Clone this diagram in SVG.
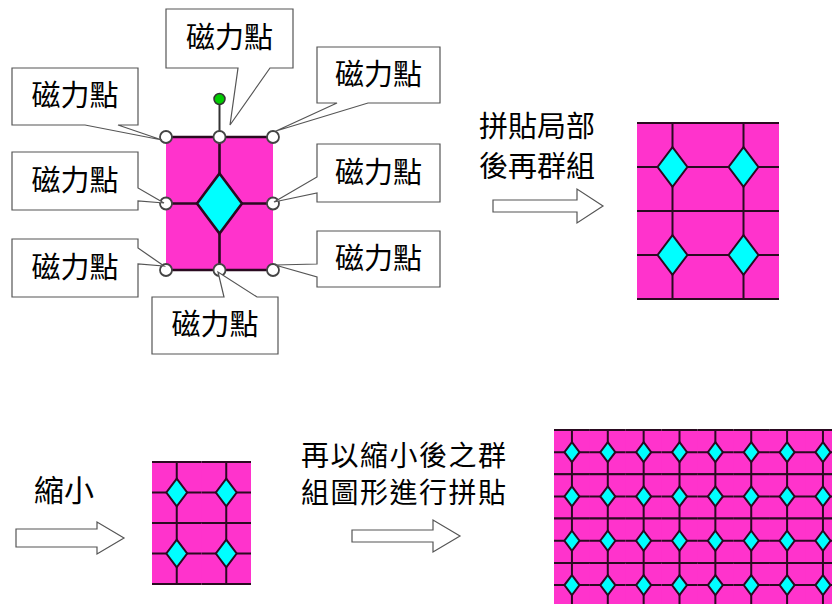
<svg xmlns="http://www.w3.org/2000/svg" xmlns:xlink="http://www.w3.org/1999/xlink" width="832" height="604" viewBox="0 0 832 604">
<style>
.co{fill:#fff;stroke:#555;stroke-width:1.2}
.t{font-family:"Noto Sans CJK TC","Noto Sans CJK SC",sans-serif;font-size:29px;fill:#000}
.ct{text-anchor:middle}
.ar{fill:#fff;stroke:#555;stroke-width:1.2}
.ln{stroke:#2a0a20;stroke-width:var(--sw,2);fill:none;vector-effect:non-scaling-stroke}
.dm{fill:#00ffff;stroke:#2a0a20;stroke-width:var(--sw,2);vector-effect:non-scaling-stroke}
.hd{fill:#fff;stroke:#444;stroke-width:1.8}
.pk{fill:#ff33cc}
</style>
<defs>
<symbol id="tile" viewBox="0 0 100 124" preserveAspectRatio="none" style="overflow:visible">
<rect width="100" height="124" fill="#ff33cc"/>
<path class="ln" d="M0,0H100M0,124H100M50,0V124M0,62H100"/>
<polygon class="dm" points="50,34 71,62 50,90 29,62"/>
</symbol>
</defs>

<g id="connectors">
<line x1="219.5" y1="99" x2="219.5" y2="137" stroke="#333" stroke-width="2"/>
</g>

<g id="main-tile">
<use xlink:href="#tile" href="#tile" x="166" y="137" width="107" height="133" style="--sw:2.6"/>
<circle cx="219.5" cy="99" r="5.5" fill="#00cc00" stroke="#333" stroke-width="1.5"/>
<circle class="hd" cx="166" cy="137" r="6"/>
<circle class="hd" cx="219.5" cy="137" r="6"/>
<circle class="hd" cx="273" cy="137" r="6"/>
<circle class="hd" cx="166" cy="203.5" r="6"/>
<circle class="hd" cx="273" cy="203.5" r="6"/>
<circle class="hd" cx="166" cy="270" r="6"/>
<circle class="hd" cx="219.5" cy="270" r="6"/>
<circle class="hd" cx="273" cy="270" r="6"/>
</g>

<g id="callout-top">
<path class="co" d="M166,9H293V68H270L230,125L238,68H166Z"/>
<text class="t ct" x="229.5" y="48">磁力點</text>
</g>
<g id="callout-top-left">
<path class="co" d="M12,68H138V125H118L162,140L85,125H12Z"/>
<text class="t ct" x="75" y="106">磁力點</text>
</g>
<g id="callout-mid-left">
<path class="co" d="M12,152H138V188L164,203L138,201V210H12Z"/>
<text class="t ct" x="75" y="191">磁力點</text>
</g>
<g id="callout-bottom-left">
<path class="co" d="M12,239H138V248L164,266L138,264V297H12Z"/>
<text class="t ct" x="75" y="278">磁力點</text>
</g>
<g id="callout-bottom">
<path class="co" d="M152,297H224L218,272L257,297H278V354H152Z"/>
<text class="t ct" x="215" y="335">磁力點</text>
</g>
<g id="callout-top-right">
<path class="co" d="M317,47H440V103H368L276,131L337,103H317Z"/>
<text class="t ct" x="378.5" y="85">磁力點</text>
</g>
<g id="callout-mid-right">
<path class="co" d="M317,144H440V202H317V193L274,202L317,177Z"/>
<text class="t ct" x="378.5" y="183">磁力點</text>
</g>
<g id="callout-bottom-right">
<path class="co" d="M317,231H440V287H317V277L275,265L317,264Z"/>
<text class="t ct" x="378.5" y="269">磁力點</text>
</g>

<g id="step1">
<text class="t" x="479" y="137">拼貼局部</text>
<text class="t" x="479" y="177">後再群組</text>
<path class="ar" d="M493,200H577V189L603,206L577,223V212H493Z"/>
</g>

<g id="tile-2x2">
<rect class="pk" x="637" y="123" width="142" height="176"/>
<use href="#tile" x="637" y="123" width="71" height="88"/>
<use href="#tile" x="708" y="123" width="71" height="88"/>
<use href="#tile" x="637" y="211" width="71" height="88"/>
<use href="#tile" x="708" y="211" width="71" height="88"/>
</g>

<g id="step2">
<text class="t" x="34" y="501" style="font-size:30px">縮小</text>
<path class="ar" d="M16,529H97V522L124,538L97,554V547H16Z"/>
</g>

<g id="tile-small">
<rect class="pk" x="152" y="462" width="99" height="122"/>
<use href="#tile" x="152" y="462" width="49.5" height="61"/>
<use href="#tile" x="201.5" y="462" width="49.5" height="61"/>
<use href="#tile" x="152" y="523" width="49.5" height="61"/>
<use href="#tile" x="201.5" y="523" width="49.5" height="61"/>
</g>

<g id="step3">
<text class="t" x="301" y="466" style="font-size:28px;letter-spacing:1.5px">再以縮小後之群</text>
<text class="t" x="301" y="503" style="font-size:28px;letter-spacing:1.5px">組圖形進行拼貼</text>
<path class="ar" d="M352,530H433V520L460,536L433,552V542H352Z"/>
</g>

<g id="tile-big">
<rect class="pk" x="554" y="430" width="278" height="174"/>
<use href="#tile" x="554" y="430" width="35.86" height="44.3"/>
<use href="#tile" x="589.86" y="430" width="35.86" height="44.3"/>
<use href="#tile" x="625.72" y="430" width="35.86" height="44.3"/>
<use href="#tile" x="661.58" y="430" width="35.86" height="44.3"/>
<use href="#tile" x="697.44" y="430" width="35.86" height="44.3"/>
<use href="#tile" x="733.3" y="430" width="35.86" height="44.3"/>
<use href="#tile" x="769.16" y="430" width="35.86" height="44.3"/>
<use href="#tile" x="805.02" y="430" width="35.86" height="44.3"/>
<use href="#tile" x="554" y="474.3" width="35.86" height="44.3"/>
<use href="#tile" x="589.86" y="474.3" width="35.86" height="44.3"/>
<use href="#tile" x="625.72" y="474.3" width="35.86" height="44.3"/>
<use href="#tile" x="661.58" y="474.3" width="35.86" height="44.3"/>
<use href="#tile" x="697.44" y="474.3" width="35.86" height="44.3"/>
<use href="#tile" x="733.3" y="474.3" width="35.86" height="44.3"/>
<use href="#tile" x="769.16" y="474.3" width="35.86" height="44.3"/>
<use href="#tile" x="805.02" y="474.3" width="35.86" height="44.3"/>
<use href="#tile" x="554" y="518.6" width="35.86" height="44.3"/>
<use href="#tile" x="589.86" y="518.6" width="35.86" height="44.3"/>
<use href="#tile" x="625.72" y="518.6" width="35.86" height="44.3"/>
<use href="#tile" x="661.58" y="518.6" width="35.86" height="44.3"/>
<use href="#tile" x="697.44" y="518.6" width="35.86" height="44.3"/>
<use href="#tile" x="733.3" y="518.6" width="35.86" height="44.3"/>
<use href="#tile" x="769.16" y="518.6" width="35.86" height="44.3"/>
<use href="#tile" x="805.02" y="518.6" width="35.86" height="44.3"/>
<use href="#tile" x="554" y="562.9" width="35.86" height="44.3"/>
<use href="#tile" x="589.86" y="562.9" width="35.86" height="44.3"/>
<use href="#tile" x="625.72" y="562.9" width="35.86" height="44.3"/>
<use href="#tile" x="661.58" y="562.9" width="35.86" height="44.3"/>
<use href="#tile" x="697.44" y="562.9" width="35.86" height="44.3"/>
<use href="#tile" x="733.3" y="562.9" width="35.86" height="44.3"/>
<use href="#tile" x="769.16" y="562.9" width="35.86" height="44.3"/>
<use href="#tile" x="805.02" y="562.9" width="35.86" height="44.3"/>
</g>
</svg>
